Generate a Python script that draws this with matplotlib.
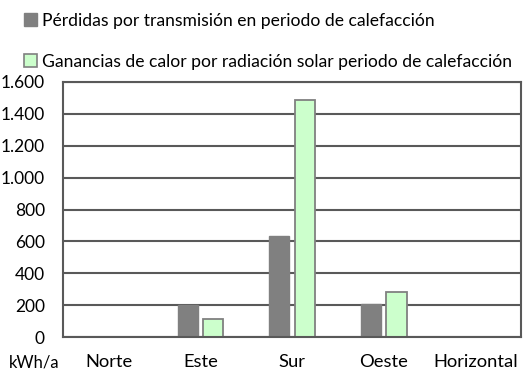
import matplotlib.pyplot as plt
import numpy as np
from matplotlib.patches import Patch
from matplotlib.ticker import FuncFormatter

categories = ["Norte", "Este", "Sur", "Oeste", "Horizontal"]
perdidas = [0, 200, 635, 207, 0]
ganancias = [0, 115, 1490, 283, 0]
series_labels = [
    "Pérdidas por transmisión en periodo de calefacción",
    "Ganancias de calor por radiación solar periodo de calefacción",
]

GREY = "#808080"
GREEN = "#ccffcc"
LINE = "#595959"

plt.rcParams["font.family"] = ["Lato", "DejaVu Sans"]

fig = plt.figure(figsize=(5.23, 3.84), dpi=100)
ax = fig.add_axes([63 / 523, 1 - 337 / 384, 458 / 523, 255 / 384])

x = np.arange(len(categories))
w = 0.22
ax.bar(x - 0.14, perdidas, w, color=GREY, edgecolor=GREY, linewidth=1)
ax.bar(x + 0.14, ganancias, w, color=GREEN, edgecolor=GREY, linewidth=1.3)

ax.set_xlim(-0.5, len(categories) - 0.5)
ax.set_ylim(0, 1600)
ax.set_yticks(np.arange(0, 1601, 200))
ax.yaxis.set_major_formatter(FuncFormatter(lambda v, _: f"{int(v):,}".replace(",", ".")))
ax.set_xticks(x)
ax.set_xticklabels(categories)
ax.tick_params(length=0, labelsize=13.2, colors="black")
ax.tick_params(axis="y", labelsize=12.5, pad=13)
ax.tick_params(axis="x", pad=12)

ax.grid(axis="y", color=LINE, linewidth=1.5)
ax.set_axisbelow(True)
for s in ax.spines.values():
    s.set_color(LINE)
    s.set_linewidth(1.5)

fig.text(9 / 523, 1 - 363 / 384, "kWh/a", fontsize=12, va="center", ha="left")

handles = [
    Patch(facecolor=GREY, edgecolor=GREY),
    Patch(facecolor=GREEN, edgecolor=GREY, linewidth=1.2),
]
fig.legend(handles, series_labels, loc="upper left", bbox_to_anchor=(17 / 523, 1 - 6 / 384),
           frameon=False, fontsize=12.6, handlelength=0.75, handleheight=0.75,
           handletextpad=0.3, labelspacing=1.4, borderaxespad=0)

fig.savefig("out.png", dpi=100)
